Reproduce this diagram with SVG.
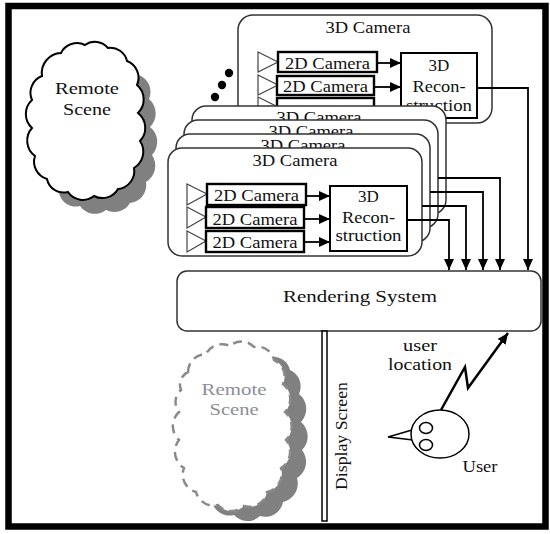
<svg xmlns="http://www.w3.org/2000/svg" width="550" height="534" viewBox="0 0 550 534" font-family="'Liberation Serif', 'DejaVu Serif', serif">
  <style>
    text { font-family: 'Liberation Serif', 'DejaVu Serif', serif; font-size: 17px; fill: #111; }
    .mid { text-anchor: middle; }
    .cam3d { fill: #fff; stroke: #333; stroke-width: 1.5; }
    .cam2d { fill: #fff; stroke: #000; stroke-width: 2.4; }
    .recon { fill: #fff; stroke: #000; stroke-width: 2; }
    .lens { fill: #fff; stroke: #444; stroke-width: 1.2; }
    .wire { fill: none; stroke: #000; stroke-width: 1.8; }
    .arrow { marker-end: url(#ah); }
    .shadow { fill: #808080; }
    .ghost { fill: #8a8e96; }
  </style>
  <defs>
    <marker id="ah" viewBox="0 0 11 10" refX="11" refY="5" markerWidth="11" markerHeight="10" markerUnits="userSpaceOnUse" orient="auto">
      <path d="M0,0 L11,5 L0,10 z" fill="#000"/>
    </marker>
    <!-- scalloped cloud outlines -->
    <path id="cloudA" d="M42,76 A20,20 0 0 1 61,53 A18,18 0 0 1 85,45 A17,17 0 0 1 108,48 A17,17 0 0 1 127,61 A18,18 0 0 1 137,85 A19,19 0 0 1 138,113 A19,19 0 0 1 140,141 A19,19 0 0 1 134,168 A18,18 0 0 1 118,189 A18,18 0 0 1 94,196 A18,18 0 0 1 68,192 A17,17 0 0 1 47,179 A18,18 0 0 1 35,156 A19,19 0 0 1 32,128 A19,19 0 0 1 32,100 A18,18 0 0 1 42,76 Z"/>
    <path id="cloudB" d="M188,372 A18,18 0 0 1 206,354 A18,18 0 0 1 230,346 A17,17 0 0 1 254,347 A17,17 0 0 1 274,360 A18,18 0 0 1 283,384 A19,19 0 0 1 285,412 A19,19 0 0 1 286,440 A19,19 0 0 1 281,468 A19,19 0 0 1 267,492 A18,18 0 0 1 244,506 A18,18 0 0 1 218,505 A18,18 0 0 1 196,492 A18,18 0 0 1 184,468 A19,19 0 0 1 179,440 A19,19 0 0 1 179,412 A16,16 0 0 1 181,390 A14,14 0 0 1 188,372 Z"/>
  </defs>

  <rect width="550" height="534" fill="#fff"/>
  <!-- outer frame -->
  <rect x="8.5" y="6" width="537" height="520.5" fill="none" stroke="#000" stroke-width="6.5"/>

  <!-- remote scene (solid cloud) -->
  <g id="remote-scene">
    <use href="#cloudA" class="shadow" transform="translate(12,14)"/>
    <use href="#cloudA" fill="#fff" stroke="#000" stroke-width="2"/>
    <text class="mid" x="87" y="94" textLength="64" lengthAdjust="spacingAndGlyphs">Remote</text>
    <text class="mid" x="87" y="115" textLength="48" lengthAdjust="spacingAndGlyphs">Scene</text>
  </g>

  <!-- remote scene as seen on the display (dashed cloud) -->
  <g id="remote-scene-view">
    <use href="#cloudB" class="shadow" transform="translate(16,10)"/>
    <use href="#cloudB" fill="#fff" stroke="#8a8a8a" stroke-width="2.5" stroke-dasharray="9 6"/>
    <text class="mid ghost" x="234" y="395" textLength="65" lengthAdjust="spacingAndGlyphs">Remote</text>
    <text class="mid ghost" x="234" y="415" textLength="49" lengthAdjust="spacingAndGlyphs">Scene</text>
  </g>

  <!-- ellipsis dots -->
  <g id="more-cameras" fill="#000">
    <circle cx="229" cy="73" r="4.2"/>
    <circle cx="222" cy="85" r="4.2"/>
    <circle cx="215" cy="97" r="4.2"/>
  </g>

  <!-- rear 3D camera -->
  <g id="camera-rear">
    <rect class="cam3d" x="238" y="15" width="254" height="108" rx="15"/>
    <text class="mid" x="368" y="33" textLength="85" lengthAdjust="spacingAndGlyphs">3D Camera</text>
    <polygon class="lens" points="258,52 278,62 258,72"/>
    <polygon class="lens" points="258,75 278,85 258,95"/>
    <polygon class="lens" points="258,97 278,107 258,117"/>
    <rect class="cam2d" x="278" y="52" width="99" height="20"/>
    <text class="mid" x="327.5" y="69" textLength="85" lengthAdjust="spacingAndGlyphs">2D Camera</text>
    <rect class="cam2d" x="277" y="76" width="97" height="19"/>
    <text class="mid" x="325.5" y="92" textLength="85" lengthAdjust="spacingAndGlyphs">2D Camera</text>
    <rect class="cam2d" x="277" y="98" width="97" height="20"/>
    <rect class="recon" x="401" y="53" width="76" height="65"/>
    <text class="mid" x="439" y="71">3D</text>
    <text class="mid" x="439" y="92" textLength="53" lengthAdjust="spacingAndGlyphs">Recon-</text>
    <text class="mid" x="439" y="111" textLength="66" lengthAdjust="spacingAndGlyphs">struction</text>
  </g>

  <!-- stacked 3D cameras, back to front -->
  <g id="camera-4">
    <rect class="cam3d" x="192" y="106" width="254" height="108" rx="14"/>
    <text class="mid" x="319" y="123" textLength="85" lengthAdjust="spacingAndGlyphs">3D Camera</text>
  </g>
  <g id="camera-3">
    <rect class="cam3d" x="184" y="120" width="254" height="108" rx="14"/>
    <text class="mid" x="311" y="137" textLength="85" lengthAdjust="spacingAndGlyphs">3D Camera</text>
  </g>
  <g id="camera-2">
    <rect class="cam3d" x="176" y="134" width="254" height="108" rx="14"/>
    <text class="mid" x="303" y="151" textLength="85" lengthAdjust="spacingAndGlyphs">3D Camera</text>
  </g>
  <g id="camera-1">
    <rect class="cam3d" x="168" y="148" width="254" height="108" rx="14"/>
    <text class="mid" x="295" y="166" textLength="85" lengthAdjust="spacingAndGlyphs">3D Camera</text>
    <polygon class="lens" points="187,184 207,194 187,205"/>
    <polygon class="lens" points="187,207 206,217 187,228"/>
    <polygon class="lens" points="187,231 206,241 187,252"/>
    <rect class="cam2d" x="207" y="184" width="99" height="21"/>
    <text class="mid" x="256.5" y="201" textLength="85" lengthAdjust="spacingAndGlyphs">2D Camera</text>
    <rect class="cam2d" x="206" y="207" width="98" height="21"/>
    <text class="mid" x="255" y="225" textLength="85" lengthAdjust="spacingAndGlyphs">2D Camera</text>
    <rect class="cam2d" x="206" y="231" width="98" height="21"/>
    <text class="mid" x="255" y="248" textLength="85" lengthAdjust="spacingAndGlyphs">2D Camera</text>
    <rect class="recon" x="330" y="186" width="77" height="65"/>
    <text class="mid" x="368.5" y="202">3D</text>
    <text class="mid" x="368.5" y="223" textLength="53" lengthAdjust="spacingAndGlyphs">Recon-</text>
    <text class="mid" x="368.5" y="241" textLength="66" lengthAdjust="spacingAndGlyphs">struction</text>
  </g>

  <!-- rendering system -->
  <g id="rendering-system">
    <rect x="177" y="271" width="364" height="60" rx="10" fill="#fff" stroke="#333" stroke-width="1.5"/>
    <text class="mid" x="360" y="302" textLength="154" lengthAdjust="spacingAndGlyphs">Rendering System</text>
  </g>

  <!-- display screen -->
  <g id="display-screen">
    <rect x="322" y="331" width="5" height="190" fill="#fff" stroke="#000" stroke-width="1.5"/>
    <text class="mid" transform="translate(347,436) rotate(-90)" textLength="108" lengthAdjust="spacingAndGlyphs">Display Screen</text>
  </g>

  <!-- user -->
  <g id="user" fill="#fff" stroke="#000" stroke-width="1.5">
    <polyline points="412,430 388,437 413,440" fill="none"/>
    <ellipse cx="440" cy="434" rx="29" ry="24"/>
    <ellipse cx="426" cy="428" rx="6.5" ry="5.5"/>
    <ellipse cx="426" cy="445" rx="6.5" ry="5.5"/>
    <text class="mid" x="480" y="472" stroke="none" textLength="35" lengthAdjust="spacingAndGlyphs">User</text>
  </g>

  <!-- connectors -->
  <g id="connectors" class="wire">
    <path class="arrow" d="M377,63 H401"/>
    <path class="arrow" d="M374,87 H401"/>
    <path class="arrow" d="M306,196 H330"/>
    <path class="arrow" d="M304,219 H330"/>
    <path class="arrow" d="M304,242 H330"/>
    <path class="arrow" d="M477,88 H528 V270"/>
    <path class="arrow" d="M438,178 H500 V270"/>
    <path class="arrow" d="M430,192 H483 V270"/>
    <path class="arrow" d="M422,206 H466 V270"/>
    <path class="arrow" d="M407,220 H449 V270"/>
    <path class="arrow" d="M441,410 L465,367 L468,388 L508,333" stroke-width="2.5"/>
  </g>
  <g id="connector-labels">
    <text class="mid" x="420" y="351" textLength="34" lengthAdjust="spacingAndGlyphs">user</text>
    <text class="mid" x="420" y="370" textLength="64" lengthAdjust="spacingAndGlyphs">location</text>
  </g>
</svg>
